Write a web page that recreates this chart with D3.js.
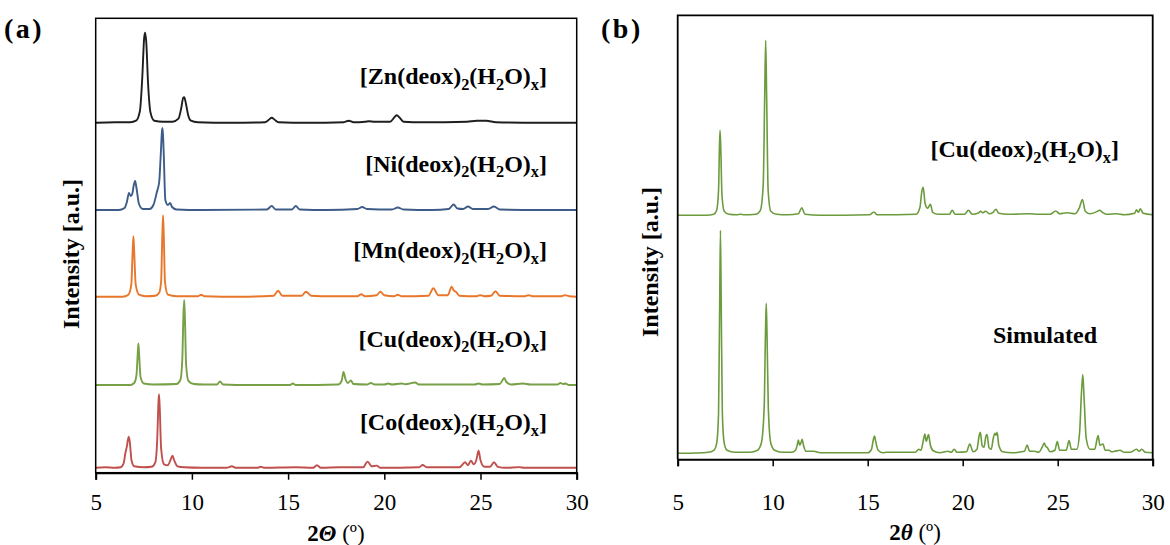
<!DOCTYPE html>
<html>
<head>
<meta charset="utf-8">
<script src="https://cdn.jsdelivr.net/npm/d3@7"></script>
<style>
  body { margin: 0; background: #fff; }
  text { font-family: "Liberation Serif", "Times New Roman", serif; fill: #000; }
</style>
</head>
<body>
<svg id="chart" width="1170" height="545"></svg>
<script>
// x ticks (2-theta, degrees)
const xTicks = [5, 10, 15, 20, 25, 30];

// panel (a): samples, top to bottom, and their vertical offsets (a.u.)
const panelAMetals = ["Zn", "Ni", "Mn", "Cu", "Co"];
const panelAOffsets = [350, 262.7, 176, 87.7, 4.4];

// read-off patterns: [2theta, intensity above own baseline]
const znPattern = [[5,0],[6,0.5],[6.8,0.5],[7.1,2],[7.3,12],[7.42,45],[7.52,85],[7.57,90],[7.63,80],[7.72,40],[7.85,10],[8.05,2],[8.5,1],[9.0,1],[9.3,4],[9.45,15],[9.55,25],[9.6,25.5],[9.68,20],[9.8,8],[9.95,2],[10.3,0.5],[12,0],[13.8,0.5],[14.0,3],[14.15,5],[14.3,3],[14.5,0.5],[16,0],[17.9,0.5],[18.15,2],[18.4,0.5],[19.0,1],[19.2,1.5],[19.5,1],[20.3,1],[20.55,6],[20.65,7.5],[20.8,5],[21.0,1],[22,0.5],[24.3,1],[24.8,2],[25.3,2],[25.8,0.5],[28,0],[30,0]];
const niPattern = [[5,0],[6.2,0],[6.5,2],[6.62,8],[6.73,17],[6.82,14],[6.9,16],[6.98,25],[7.05,29],[7.12,22],[7.25,6],[7.45,1],[7.8,1],[8.0,5],[8.18,18],[8.3,28],[8.38,55],[8.45,80],[8.48,82],[8.53,60],[8.62,10],[8.75,5],[8.87,7],[8.97,3],[9.2,0.5],[10.5,0],[13.9,0.5],[14.15,4],[14.35,0.5],[15.2,0.5],[15.4,4],[15.6,0.5],[17,0],[18.6,1],[18.85,3],[19.1,1],[20.4,0.5],[20.7,2.5],[21.0,0.5],[22.5,0],[23.35,1],[23.6,5.5],[23.8,1.5],[24.1,1],[24.35,3.5],[24.6,1],[25.4,1],[25.7,3.5],[26.0,0.5],[28,0],[30,0]];
const mnPattern = [[5,0],[6.4,0],[6.7,2],[6.85,12],[6.92,45],[6.96,60.5],[7.0,45],[7.08,12],[7.25,2],[7.6,0.5],[8.1,1],[8.3,4],[8.4,15],[8.46,60],[8.5,81.5],[8.54,60],[8.6,15],[8.75,2],[9.2,0.5],[10.3,0.5],[10.48,2],[10.65,0.5],[12.5,0],[14.25,1],[14.48,6],[14.7,1],[15.7,1],[15.93,5],[16.2,1],[17.2,0.5],[18.6,0.5],[18.8,2.5],[19.0,0.5],[19.6,1.5],[19.8,5],[20.0,1.5],[20.5,0.5],[20.7,2],[20.9,0.5],[22.3,1],[22.55,8.5],[22.8,1.5],[23.3,1.5],[23.5,10],[23.62,6],[23.72,5],[23.9,1],[24.8,0.5],[24.98,1.5],[25.2,0.5],[25.55,1],[25.78,5.5],[26.0,1],[27.3,0.5],[27.5,1.5],[27.7,0.5],[29.2,0.5],[29.4,1.5],[29.6,0.5],[30,0]];
const cuPattern = [[5,0],[6.8,0],[7.0,2],[7.12,10],[7.18,30],[7.22,41.5],[7.26,30],[7.33,8],[7.5,1.5],[8.0,0.5],[9.2,1],[9.4,5],[9.5,25],[9.56,70],[9.6,85],[9.64,65],[9.7,20],[9.82,4],[10.1,1],[10.6,0.5],[11.3,0.5],[11.46,3.5],[11.62,0.5],[13,0],[15.1,0],[15.24,1.5],[15.4,0],[17.6,0.5],[17.78,4],[17.88,13],[17.98,6],[18.1,2],[18.26,4.5],[18.4,1],[19.1,0.5],[19.3,2],[19.5,0.5],[20.0,0.5],[20.2,1.5],[20.4,0.5],[20.9,1.5],[21.1,0.8],[21.6,2.5],[21.8,0.5],[24.7,0.5],[24.9,1.5],[25.1,0.5],[26.0,1],[26.15,5],[26.23,7],[26.35,3],[26.6,0.5],[27.2,1.5],[27.6,0.5],[29.0,0.5],[29.15,2],[29.3,1],[29.4,1.5],[29.6,0],[30,0]];
const coPattern = [[5,0.5],[5.5,1],[6.0,0.5],[6.3,1],[6.45,5],[6.55,16],[6.62,22],[6.67,28],[6.72,31.5],[6.78,25],[6.86,8],[7.0,2],[7.5,1],[7.9,1.5],[8.1,6],[8.2,30],[8.26,65],[8.29,74],[8.33,60],[8.4,20],[8.55,4],[8.75,3],[8.9,9],[8.99,12.5],[9.08,8],[9.25,2],[9.6,1],[10.5,0.5],[11.8,0.5],[12.08,2],[12.3,0.5],[13.4,0.5],[13.57,1.5],[13.8,0.5],[15.36,1],[16.3,0.5],[16.5,3],[16.7,0.5],[17.7,1],[18.9,1],[19.13,6.7],[19.35,2],[19.6,2.7],[19.8,0.5],[21.8,1],[22.0,3.3],[22.2,1],[23.9,1],[24.2,6],[24.35,3],[24.5,7.7],[24.65,4],[24.78,8],[24.9,17.5],[25.0,8],[25.2,1.5],[25.5,1.5],[25.7,6],[25.9,1.5],[26.3,0.5],[27.0,1.2],[27.3,0.5],[29,0.5],[30,0.5]];

// panel (b): experimental Cu vs simulated
const panelBNames = ["experimental", "Simulated"];
const panelBOffsets = [244, 6];
const cuExpPattern = [[5,0],[6.5,0],[6.9,1],[7.05,5],[7.15,25],[7.2,70],[7.23,85],[7.27,65],[7.33,20],[7.45,4],[7.7,1],[8.1,0.5],[8.3,1],[8.5,0.5],[9.1,1],[9.35,5],[9.5,30],[9.58,120],[9.63,175],[9.68,120],[9.76,25],[9.9,4],[10.2,1],[10.8,0.5],[11.35,1.5],[11.53,7.5],[11.7,1],[12.5,0],[15.1,0.5],[15.33,3.3],[15.5,0.5],[17.55,1],[17.75,8],[17.85,24],[17.92,28],[18.02,12],[18.15,7],[18.3,11],[18.42,3],[18.7,1],[19.3,1],[19.45,5],[19.6,1],[20.1,1],[20.3,5],[20.5,1],[20.8,2],[20.95,4],[21.05,2.5],[21.2,4],[21.4,1.5],[21.6,3],[21.75,6],[21.9,2],[22.4,1],[23.5,1.5],[24.0,1],[24.6,1],[24.9,4.3],[25.1,1.5],[25.5,2.5],[25.9,1.5],[26.15,8],[26.3,15.7],[26.45,4],[26.7,1.5],[27.1,4],[27.2,5],[27.35,3],[27.6,1],[28.1,1.5],[28.5,0.5],[29.05,2],[29.15,5.5],[29.25,3],[29.35,6.5],[29.5,2],[30,0.5]];
const simPattern = [[5,0],[6,0.3],[6.6,1],[6.9,3],[7.05,10],[7.15,40],[7.21,150],[7.25,223],[7.29,150],[7.35,40],[7.45,10],[7.6,3],[8.0,1],[8.8,1],[9.2,3],[9.4,10],[9.55,45],[9.62,120],[9.66,150],[9.7,120],[9.77,45],[9.9,10],[10.1,3],[10.5,1],[11.0,1],[11.2,3],[11.3,9],[11.35,13.3],[11.42,8],[11.48,10],[11.55,14],[11.62,8],[11.75,2],[12.16,2],[12.5,0.5],[15.0,0.5],[15.2,4],[15.3,14],[15.36,17.3],[15.42,12],[15.55,3],[15.8,0.5],[16.0,1],[16.5,1],[17.5,1],[17.69,4],[17.8,3],[17.92,12],[18.01,19.3],[18.08,12],[18.2,18.7],[18.3,8],[18.45,2.5],[18.8,0.5],[19.22,2],[19.4,1],[19.55,4],[19.7,1],[20.2,1.5],[20.37,9.3],[20.55,1.5],[20.75,4],[20.87,18],[20.93,21],[21.02,8],[21.12,6],[21.22,17],[21.28,18.7],[21.38,6],[21.5,4],[21.62,16],[21.7,20],[21.76,18],[21.81,21],[21.9,8],[22.1,1.5],[22.6,0.5],[23.25,2],[23.39,8.3],[23.52,2],[23.77,2],[24.0,1],[24.18,6],[24.29,10.3],[24.37,7],[24.44,6],[24.6,1.5],[24.85,3],[24.98,11.7],[25.1,3],[25.45,3],[25.6,12.7],[25.72,4],[26.0,4],[26.15,20],[26.25,60],[26.32,78.7],[26.39,55],[26.5,15],[26.7,4],[26.95,4],[27.08,15],[27.13,17.7],[27.22,8],[27.38,9.3],[27.5,3],[27.7,3],[27.85,1.5],[28.0,2],[28.28,3],[28.5,1],[28.8,1],[29.15,4],[29.28,2],[29.43,4],[29.6,1],[30,0.5]];

// ---- drawing ----
const svg = d3.select("#chart");
svg.append("rect").attr("width", 1170).attr("height", 545).attr("fill", "#fff");

const patternsA = [znPattern, niPattern, mnPattern, cuPattern, coPattern];
const colorsA = ["#1e1e1e", "#3d5c88", "#e8772b", "#78a046", "#c0504d"];
const colorB = "#6b9b3d";

const xA = d3.scaleLinear().domain([5, 30]).range([95.7, 576.7]);
const yA = d3.scaleLinear().domain([0, 454.4]).range([472.7, 18.3]);
const xB = d3.scaleLinear().domain([5, 30]).range([677.7, 1152.7]);
const yB = d3.scaleLinear().domain([0, 444]).range([459.3, 15.3]);

// formula label like [M(deox)2(H2O)x] with subscripts
function formula(g, metal, x, y, size) {
  const t = g.append("text")
    .attr("x", x).attr("y", y)
    .attr("text-anchor", "end")
    .attr("font-weight", "bold")
    .attr("font-size", size);
  const sub = size * 0.68, sh = size * 0.24;
  const parts = [["[" + metal + "(deox)", 0], ["2", 1], ["(H", 0], ["2", 1], ["O)", 0], ["x", 1], ["]", 0]];
  let low = false;
  parts.forEach(([s, isSub]) => {
    const ts = t.append("tspan").text(s);
    if (isSub) { ts.attr("font-size", sub).attr("dy", sh); low = true; }
    else if (low) { ts.attr("dy", -sh); low = false; }
  });
}

function xTitle(g, cx, y, italicTheta) {
  const t = g.append("text").attr("x", cx).attr("y", y)
    .attr("text-anchor", "middle").attr("font-size", 23);
  t.append("tspan").attr("font-weight", "bold").text("2");
  t.append("tspan").attr("font-weight", "bold").attr("font-style", "italic").text(italicTheta);
  t.append("tspan").text(" (º)");
}

function yTitle(g, x, cy) {
  g.append("text")
    .attr("transform", `translate(${x},${cy}) rotate(-90)`)
    .attr("text-anchor", "middle")
    .attr("font-weight", "bold")
    .attr("font-size", 24)
    .text("Intensity [a.u.]");
}

function bottomAxis(g, x, y0, pad) {
  const ax = g.append("g")
    .attr("transform", `translate(0,${y0})`)
    .call(d3.axisBottom(x).tickValues(xTicks).tickSize(7).tickPadding(pad).tickFormat(d3.format("d")));
  ax.select(".domain").attr("stroke", "#000").attr("stroke-width", 2);
  ax.selectAll(".tick line").attr("stroke", "#000").attr("stroke-width", 1.5);
  ax.selectAll(".tick text").attr("font-size", 23).attr("fill", "#000")
    .attr("font-family", "'Liberation Serif', serif");
}

function panelTag(g, x, label) {
  g.append("text").attr("x", x).attr("y", 38)
    .attr("font-size", 28).attr("font-weight", "bold")
    .attr("letter-spacing", 2.5)
    .text(label);
}

// ---------- panel (a) ----------
const gA = svg.append("g");
const lineA = d3.line().x(d => xA(d[0])).curve(d3.curveMonotoneX);

patternsA.forEach((pat, i) => {
  const off = panelAOffsets[i];
  gA.append("path")
    .datum(pat)
    .attr("fill", "none")
    .attr("stroke", colorsA[i])
    .attr("stroke-width", 1.9)
    .attr("d", lineA.y(d => yA(d[1] + off)));
  formula(gA, panelAMetals[i], 547, yA(off + 38.5), 24);
});

gA.append("rect")
  .attr("x", xA(5)).attr("y", yA.range()[1])
  .attr("width", xA(30) - xA(5)).attr("height", yA.range()[0] - yA.range()[1])
  .attr("fill", "none").attr("stroke", "#000").attr("stroke-width", 1.5);
bottomAxis(gA, xA, yA(0), 14);
xTitle(gA, 336, 541, "Θ");
yTitle(gA, 79, 254);
panelTag(gA, 4, "(a)");

// ---------- panel (b) ----------
const gB = svg.append("g");
const lineB = d3.line().x(d => xB(d[0])).curve(d3.curveMonotoneX);
[cuExpPattern, simPattern].forEach((pat, i) => {
  const off = panelBOffsets[i];
  gB.append("path")
    .datum(pat)
    .attr("fill", "none")
    .attr("stroke", colorB)
    .attr("stroke-width", 1.6)
    .attr("d", lineB.y(d => yB(d[1] + off)));
});
formula(gB, "Cu", 1119, 157, 24);
gB.append("text").attr("x", 1097).attr("y", 343)
  .attr("text-anchor", "end").attr("font-weight", "bold").attr("font-size", 24)
  .text(panelBNames[1]);

const frameTop = yB.range()[1], frameBot = yB.range()[0];
gB.append("path")
  .attr("d", `M${xB(5)},${frameBot}V${frameTop}H${xB(30)}V${frameBot}`)
  .attr("fill", "none").attr("stroke", "#000").attr("stroke-width", 1.8);
bottomAxis(gB, xB, yB(0), 27);
xTitle(gB, 915, 540, "θ");
yTitle(gB, 658, 262);
panelTag(gB, 601, "(b)");
</script>
</body>
</html>
